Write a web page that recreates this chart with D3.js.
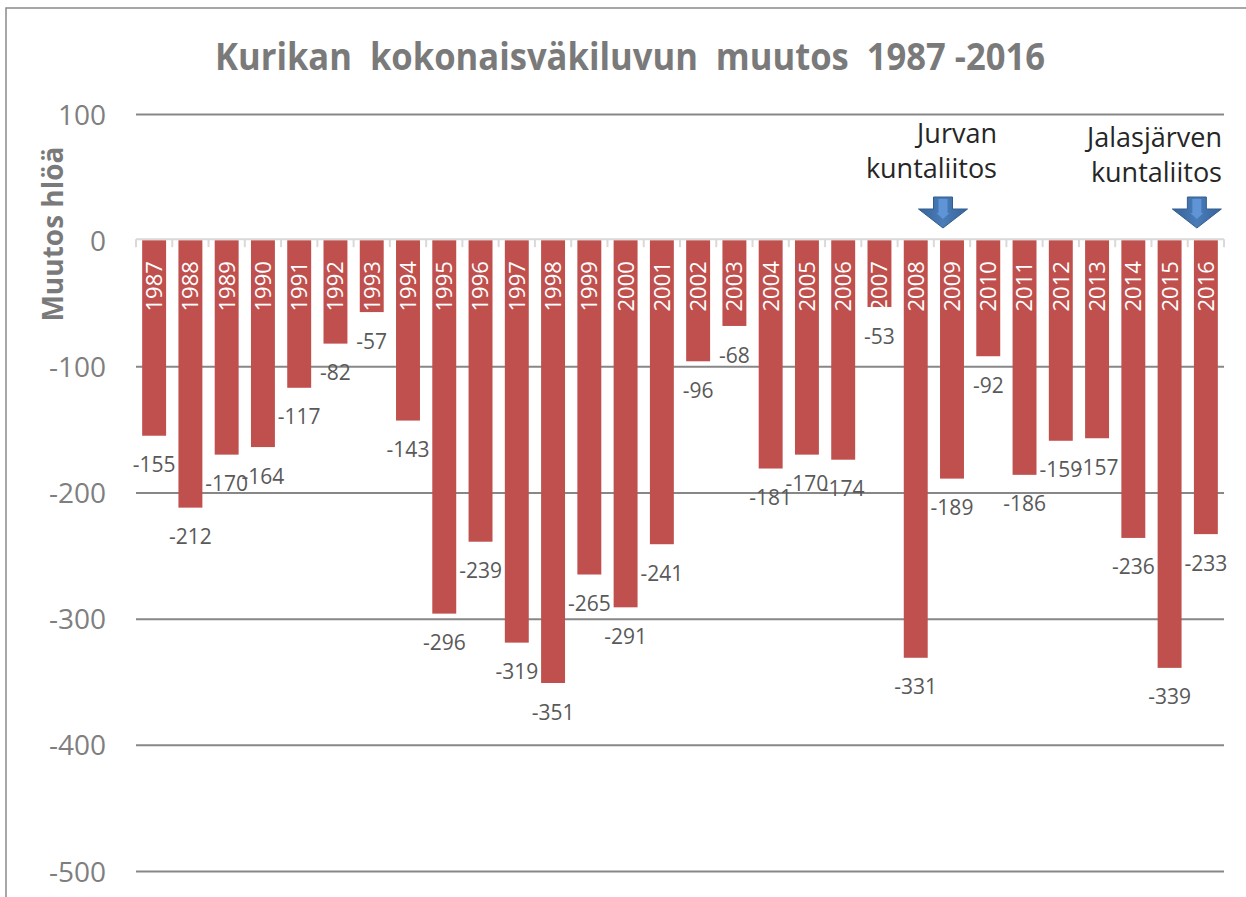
<!DOCTYPE html>
<html>
<head>
<meta charset="utf-8">
<script src="https://cdn.jsdelivr.net/npm/d3@7"></script>
<style>
  html, body { margin: 0; padding: 0; background: #fff; }
  svg { display: block; font-family: "Open Sans", "Noto Sans", sans-serif; }
</style>
</head>
<body>
<svg id="chart" width="1246" height="897"></svg>
<script>
// ---- data ----
const years = [1987,1988,1989,1990,1991,1992,1993,1994,1995,1996,1997,1998,1999,2000,2001,2002,2003,2004,2005,2006,2007,2008,2009,2010,2011,2012,2013,2014,2015,2016];
const changes = [-155,-212,-170,-164,-117,-82,-57,-143,-296,-239,-319,-351,-265,-291,-241,-96,-68,-181,-170,-174,-53,-331,-189,-92,-186,-159,-157,-236,-339,-233];
const yTicks = [100,0,-100,-200,-300,-400,-500];
const titleText = "Kurikan  kokonaisväkiluvun  muutos  1987 -2016";
const yAxisTitle = "Muutos hlöä";
const mergerYears = [2009, 2016];
const mergerLabels = [["Jurvan","kuntaliitos"],["Jalasjärven","kuntaliitos"]];

// plain hyphen-minus formatting, as in the original
const fmt = v => String(v);

// ---- layout ----
const svg = d3.select("#chart");
const plot = {left: 136, right: 1224, top: 114, bottom: 871};

const x = d3.scaleBand().domain(years).range([plot.left, plot.right]).paddingInner(0.34).paddingOuter(0.17);
const y = d3.scaleLinear().domain([-500, 100]).range([plot.bottom, plot.top]);

// chart border (top & left visible)
svg.append("path").attr("d", "M6,897 L6,8 L1246,8").attr("fill","none").attr("stroke","#8a8a8a").attr("stroke-width",1.5);

// title
svg.append("text")
  .attr("x", 630).attr("y", 70)
  .attr("text-anchor","middle")
  .attr("font-weight","bold").attr("font-size",37)
  .attr("fill","#7a7a7a")
  .style("white-space","pre")
  .attr("textLength", 830).attr("lengthAdjust","spacingAndGlyphs")
  .text(titleText);

// gridlines + tick labels
const yAxisG = svg.append("g").attr("transform", `translate(${plot.left},0)`)
  .call(d3.axisLeft(y).tickValues(yTicks).tickSize(-(plot.right - plot.left)).tickPadding(30).tickFormat(fmt));
yAxisG.select(".domain").remove();
yAxisG.selectAll(".tick line")
  .attr("stroke", d => d === 0 ? "none" : "#878787")
  .attr("stroke-width", 2);
yAxisG.selectAll(".tick text")
  .attr("font-family", "'Open Sans', sans-serif")
  .attr("font-size", 28).attr("fill", "#7f7f7f")
  .attr("dy", "0.36em");

// y axis title
svg.append("text")
  .attr("transform", `translate(63,234) rotate(-90)`)
  .attr("text-anchor","middle")
  .attr("font-weight","bold").attr("font-size",28)
  .attr("fill","#7a7a7a")
  .text(yAxisTitle);

// bars
const data = years.map((yr, i) => ({year: yr, value: changes[i]}));
svg.append("g").selectAll("rect").data(data).join("rect")
  .attr("x", d => x(d.year))
  .attr("width", x.bandwidth())
  .attr("y", y(0))
  .attr("height", d => y(d.value) - y(0))
  .attr("fill", "#C0504D");

// zero axis line with ticks at band boundaries
const zeroY = y(0);
svg.append("line").attr("x1", plot.left).attr("x2", plot.right).attr("y1", zeroY - 1).attr("y2", zeroY - 1)
  .attr("stroke", "#d9d9d9").attr("stroke-width", 2);
const step = x.step();
const boundaries = d3.range(years.length + 1).map(i => plot.left + i * step);
svg.append("g").selectAll("line").data(boundaries).join("line")
  .attr("x1", d => d).attr("x2", d => d)
  .attr("y1", zeroY - 1).attr("y2", zeroY + 7)
  .attr("stroke", "#d9d9d9").attr("stroke-width", 2);

// year labels inside bars (white, rotated)
svg.append("g").selectAll("text").data(data).join("text")
  .attr("transform", d => `translate(${x(d.year) + x.bandwidth() / 2},${zeroY + 21}) rotate(-90)`)
  .attr("text-anchor", "end")
  .attr("dy", "0.36em")
  .attr("font-size", 22)
  .attr("fill", "#ffffff")
  .text(d => d.year);

// value labels below bar ends
svg.append("g").selectAll("text").data(data).join("text")
  .attr("x", d => x(d.year) + x.bandwidth() / 2)
  .attr("y", d => y(d.value) + 29)
  .attr("dy", "0.36em")
  .attr("text-anchor", "middle")
  .attr("font-size", 21)
  .attr("fill", "#595959")
  .text(d => fmt(d.value));

// merger annotations: arrows + text
const defs = svg.append("defs");
const grad = defs.append("linearGradient").attr("id","arrowGrad").attr("x1","0").attr("x2","1").attr("y1","0").attr("y2","0");
grad.append("stop").attr("offset","0").attr("stop-color","#37649a");
grad.append("stop").attr("offset","0.5").attr("stop-color","#4a7cb8");
grad.append("stop").attr("offset","1").attr("stop-color","#37649a");

const textRight = [997, 1222];
const textTop = [143, 147];
mergerYears.forEach((yr, i) => {
  const cx = x(yr) + x.bandwidth() / 2 - 9;
  const top = 197, neck = 209, tip = 228, sw = 9.5, hw = 24.5;
  svg.append("path")
    .attr("d", `M${cx - sw},${top} L${cx + sw},${top} L${cx + sw},${neck} L${cx + hw},${neck} L${cx},${tip} L${cx - hw},${neck} L${cx - sw},${neck} Z`)
    .attr("fill", "url(#arrowGrad)").attr("stroke", "#335d8e").attr("stroke-width", 1);
  svg.append("path")
    .attr("d", `M${cx - 4.5},${top + 2} L${cx + 4.5},${top + 2} L${cx + 4.5},${neck + 4} L${cx + 6.5},${neck + 4} L${cx},${neck + 10} L${cx - 6.5},${neck + 4} L${cx - 4.5},${neck + 4} Z`)
    .attr("fill", "#5f95d6");
  const t = svg.append("text")
    .attr("text-anchor", "end")
    .attr("font-size", 27)
    .attr("fill", "#262626");
  mergerLabels[i].forEach((line, j) => {
    t.append("tspan").attr("x", textRight[i]).attr("y", textTop[i] + j * 35).text(line);
  });
});
</script>
</body>
</html>
